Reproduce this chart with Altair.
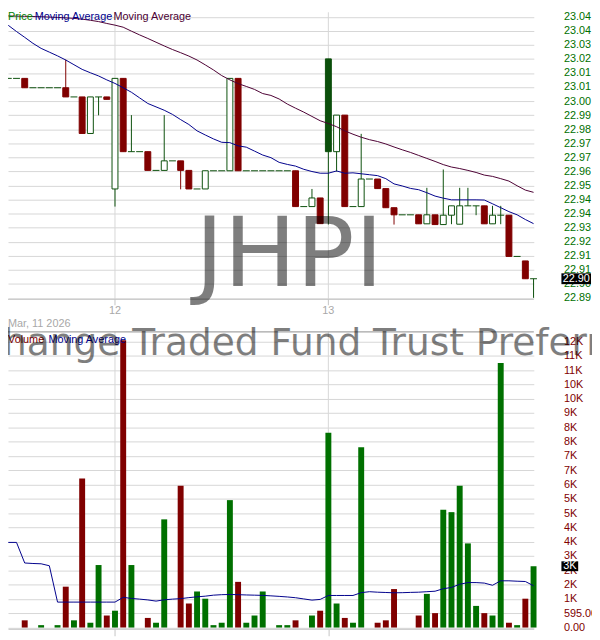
import altair as alt
import pandas as pd
import numpy as np

# ---------------- data ----------------
open_ = [23.0096, 23.0096, 23.0096, 23.0046, 23.0046, 23.0046, 23.0046, 23.0046, 22.9997, 22.9997,
         22.9802, 22.9997, 22.9997, 22.9506, 23.0096, 22.9705, 22.9705, 22.9705, 22.9605, 22.9605,
         22.9656, 22.9656, 22.9605, 22.9506, 22.9506, 22.9603, 22.9603, 22.9603, 23.0096, 22.9603,
         22.9603, 22.9603, 22.9603, 22.9603, 22.9603, 22.9603, 22.9412, 22.9412, 22.9458, 23.0200,
         22.9705, 22.9900, 22.9412, 22.9412, 22.9559, 22.9559, 22.9508, 22.9406, 22.9368, 22.9368,
         22.9368, 22.9320, 22.9368, 22.9316, 22.9366, 22.9318, 22.9416, 22.9416, 22.9416, 22.9320,
         22.9366, 22.9366, 22.9146, 22.9122, 22.9027]
high = [23.0096, 23.0096, 23.0096, 23.0046, 23.0046, 23.0046, 23.0046, 23.0196, 22.9997, 22.9997,
        22.9997, 22.9997, 22.9997, 23.0096, 23.0096, 22.9900, 22.9705, 22.9705, 22.9605, 22.9900,
        22.9656, 22.9656, 22.9605, 22.9506, 22.9603, 22.9603, 22.9603, 23.0096, 23.0096, 22.9603,
        22.9603, 22.9603, 22.9603, 22.9603, 22.9603, 22.9603, 22.9412, 22.9506, 22.9458, 23.0200,
        22.9900, 22.9900, 22.9412, 22.9800, 22.9559, 22.9559, 22.9508, 22.9406, 22.9368, 22.9368,
        22.9368, 22.9512, 22.9368, 22.9610, 22.9416, 22.9512, 22.9512, 22.9416, 22.9416, 22.9416,
        22.9416, 22.9366, 22.9146, 22.9122, 22.9027]
low = [23.0096, 23.0096, 23.0046, 23.0046, 23.0046, 23.0046, 23.0046, 22.9997, 22.9997, 22.9802,
       22.9802, 22.9899, 22.9984, 22.9412, 22.9705, 22.9705, 22.9705, 22.9605, 22.9605, 22.9605,
       22.9656, 22.9504, 22.9506, 22.9506, 22.9506, 22.9603, 22.9603, 22.9603, 22.9603, 22.9603,
       22.9603, 22.9603, 22.9603, 22.9603, 22.9603, 22.9412, 22.9412, 22.9412, 22.9321, 22.9316,
       22.9599, 22.9412, 22.9412, 22.9412, 22.9559, 22.9508, 22.9406, 22.9316, 22.9368, 22.9368,
       22.9320, 22.9320, 22.9316, 22.9316, 22.9318, 22.9318, 22.9416, 22.9366, 22.9320, 22.9320,
       22.9318, 22.9146, 22.9146, 22.9027, 22.8925]
close = [23.0096, 23.0096, 23.0046, 23.0046, 23.0046, 23.0046, 23.0046, 22.9997, 22.9997, 22.9802,
         22.9997, 22.9997, 22.9984, 23.0096, 22.9705, 22.9705, 22.9705, 22.9605, 22.9605, 22.9656,
         22.9656, 22.9605, 22.9506, 22.9506, 22.9603, 22.9603, 22.9603, 23.0096, 22.9603, 22.9603,
         22.9603, 22.9603, 22.9603, 22.9603, 22.9603, 22.9412, 22.9412, 22.9458, 22.9321, 22.9705,
         22.9900, 22.9412, 22.9412, 22.9559, 22.9559, 22.9508, 22.9406, 22.9368, 22.9368, 22.9368,
         22.9320, 22.9368, 22.9316, 22.9366, 22.9416, 22.9416, 22.9416, 22.9416, 22.9320, 22.9366,
         22.9366, 22.9146, 22.9146, 22.9027, 22.9027]
volume = [0, 0, 300, 0, 100, 0, 100, 1700, 300, 6200,
          200, 2600, 500, 700, 11950, 2600, 0, 400, 200, 4500,
          0, 5900, 1000, 1500, 1200, 100, 200, 5300, 1900, 200,
          500, 1500, 0, 100, 100, 300, 0, 500, 700, 8100,
          1000, 400, 200, 7500, 0, 200, 300, 1600, 0, 0,
          500, 1400, 600, 4900, 4800, 5900, 3500, 900, 600, 500,
          11000, 200, 100, 1200, 2550]
ma_fast = [23.0379, 23.0346, 23.0315, 23.0283, 23.0256, 23.0236, 23.0216, 23.0194, 23.0169, 23.0144,
           23.0126, 23.0109, 23.0088, 23.0069, 23.0046, 23.0022, 22.9992, 22.9962, 22.9944, 22.9926,
           22.9904, 22.9876, 22.9850, 22.9816, 22.9794, 22.9773, 22.9755, 22.9753, 22.9736, 22.9729,
           22.9708, 22.9687, 22.9673, 22.9648, 22.9637, 22.9628, 22.9611, 22.9599, 22.9590, 22.9590,
           22.9602, 22.9590, 22.9592, 22.9587, 22.9582, 22.9577, 22.9561, 22.9533, 22.9522, 22.9509,
           22.9502, 22.9486, 22.9468, 22.9457, 22.9448, 22.9448, 22.9448, 22.9448, 22.9447, 22.9427,
           22.9406, 22.9385, 22.9368, 22.9343, 22.9321]
ma_slow = [23.0429, 23.0428, 23.0427, 23.0426, 23.0425, 23.0423, 23.0421, 23.0419, 23.0416, 23.0412,
           23.0406, 23.0399, 23.0389, 23.0380, 23.0369, 23.0348, 23.0328, 23.0309, 23.0289, 23.0269,
           23.0250, 23.0233, 23.0215, 23.0194, 23.0168, 23.0141, 23.0111, 23.0088, 23.0068, 23.0053,
           23.0037, 23.0015, 23.0005, 22.9986, 22.9959, 22.9937, 22.9916, 22.9893, 22.9870, 22.9855,
           22.9838, 22.9816, 22.9798, 22.9782, 22.9769, 22.9759, 22.9746, 22.9730, 22.9715, 22.9701,
           22.9685, 22.9669, 22.9653, 22.9636, 22.9623, 22.9615, 22.9605, 22.9594, 22.9580, 22.9573,
           22.9561, 22.9548, 22.9523, 22.9500, 22.9488]
vol_ma = [3541, 3541, 2685, 2664, 2652, 2570, 1058, 1058, 1058, 1058,
          1058, 1058, 1058, 1058, 1256, 1211, 1182, 1149, 1100, 1153,
          1182, 1202, 1244, 1277, 1305, 1347, 1367, 1375, 1367, 1355,
          1347, 1338, 1318, 1297, 1272, 1240, 1190, 1141, 1170, 1334,
          1334, 1334, 1334, 1450, 1491, 1470, 1458, 1445, 1450, 1462,
          1470, 1491, 1511, 1614, 1668, 1800, 1870, 1870, 1849, 1758,
          1944, 1944, 1927, 1915, 1738]

price_ticks = [22.8925, 22.9, 22.9075, 22.915, 22.9225, 22.93, 22.9375, 22.945, 22.9525, 22.96,
               22.9675, 22.975, 22.9825, 22.99, 22.9975, 23.005, 23.0125, 23.02, 23.0275, 23.035, 23.0425]
price_tick_labels = ["22.89", "22.90", "22.91", "22.91", "22.92", "22.93", "22.94", "22.94", "22.95", "22.96",
                     "22.97", "22.97", "22.98", "22.99", "23.00", "23.01", "23.01", "23.02", "23.03", "23.04", "23.04"]
vol_ticks = [0, 595, 1190, 1785, 2380, 2975, 3570, 4165, 4760, 5355, 5950,
             6545, 7140, 7735, 8330, 8925, 9520, 10115, 10710, 11305, 11900]
vol_tick_labels = ["0.00", "595.00", "1K", "2K", "2K", "3K", "4K", "4K", "5K", "5K", "6K",
                   "7K", "7K", "8K", "8K", "9K", "10K", "10K", "11K", "11K", "12K"]
day_ticks = [13, 39]
day_labels = ["12", "13"]
date_label = "Mar, 11 2026"
symbol = "JHPI"
fund_name = "John Hancock Exchange Traded Fund Trust Preferred Income ETF"

# ---------------- styling ----------------
GREEN_C = "#0b4f0b"
RED_C = "#800000"
GREEN_V = "#007000"
GRID = "#d6d6d6"
AXC = "#c4c4c4"
FONT = "Liberation Sans"
W, H = 533, 625

df = pd.DataFrame(dict(i=list(range(len(close))), o=open_, h=high, l=low, c=close,
                       v=volume, ma1=ma_fast, ma2=ma_slow, vma=vol_ma))
prev = df["c"].shift(1).fillna(df["c"])
up = df["c"] >= prev
df["col"] = np.where(up, GREEN_C, RED_C)
df["vcol"] = np.where(up, GREEN_V, RED_C)
df["fillc"] = np.where(df["c"] < df["o"], df["col"], "#ffffff")
df["xl"] = df["i"] - 0.42
df["xr"] = df["i"] + 0.42
body = df[df["o"] != df["c"]]
doji = df[df["o"] == df["c"]]
vol = df[df["v"] > 0]
last = df.tail(1).copy()
last["plabel"] = last["c"].map(lambda v: f"{v:.2f}")
last["vlabel"] = last["v"].map(lambda v: f"{round(v / 1000)}K")
days = pd.DataFrame({"d": day_ticks, "lab": day_labels})

xscale = alt.Scale(domain=[-0.036, 64.03], nice=False, zero=False, padding=0)
xaxis = alt.Axis(values=day_ticks, labels=False, ticks=True, tickSize=7, tickColor=AXC,
                 domain=True, domainColor=AXC, grid=False, title=None)


def X(f="i"):
    return alt.X(f"{f}:Q", scale=xscale, axis=xaxis)


pscale = alt.Scale(domain=[22.71592, 23.04487], nice=False, zero=False, padding=0)
plabel_expr = "[" + ",".join(f"'{s}'" for s in price_tick_labels) + "][round((datum.value - 22.8925) / 0.0075)]"
paxis = alt.Axis(orient="right", values=price_ticks, labelExpr=plabel_expr, labelColor="#007000",
                 labelFont=FONT, labelFontSize=11, ticks=False, domain=False, grid=True,
                 gridColor=GRID, labelPadding=30, labelOverlap=False, title=None)


def PY(f):
    return alt.Y(f"{f}:Q", scale=pscale, axis=paxis)


vscale = alt.Scale(domain=[-53.3, 25593], nice=False, zero=False, padding=0)
vlabel_expr = "[" + ",".join(f"'{s}'" for s in vol_tick_labels) + "][round(datum.value / 595)]"
vaxis = alt.Axis(orient="right", values=vol_ticks, labelExpr=vlabel_expr, labelColor="#800000",
                 labelFont=FONT, labelFontSize=11, ticks=False, domain=False, grid=True,
                 gridColor=GRID, labelPadding=30, labelOverlap=False, title=None)


def VY(f):
    return alt.Y(f"{f}:Q", scale=vscale, axis=vaxis)


def txt(s):
    return alt.Chart(pd.DataFrame({"t": [s]}))


# ---------------- price panel ----------------
pgrid = alt.Chart(days).mark_rule(color=GRID, strokeWidth=1).encode(
    x=X("d"), y=alt.value(0), y2=alt.value(291))
paxline = txt("a").mark_rule(color=AXC, strokeWidth=1).encode(
    x=alt.value(0), x2=alt.value(W), y=alt.value(291))
pticks = alt.Chart(days).mark_rule(color=AXC, strokeWidth=1).encode(
    x=X("d"), y=alt.value(291), y2=alt.value(297))
plabels = alt.Chart(days).mark_text(color="#a8a8a8", font=FONT, fontSize=11, baseline="middle").encode(
    x=X("d"), y=alt.value(303), text="lab:N")
pdate = txt(date_label).mark_text(color="#a8a8a8", font=FONT, fontSize=11, align="left",
                                   baseline="middle").encode(x=alt.value(0), y=alt.value(316), text="t:N")

wick = alt.Chart(df).mark_rule(strokeWidth=1).encode(
    x=X(), y=PY("l"), y2="h:Q", color=alt.Color("col:N", scale=None))
bodies = alt.Chart(body).mark_bar(size=6, strokeWidth=1).encode(
    x=X(), y=PY("o"), y2="c:Q", fill=alt.Fill("fillc:N", scale=None),
    stroke=alt.Stroke("col:N", scale=None))
dojis = alt.Chart(doji).mark_rule(strokeWidth=1).encode(
    x=X("xl"), x2="xr:Q", y=PY("c"), color=alt.Color("col:N", scale=None))
ma1 = alt.Chart(df).mark_line(color="#00008b", strokeWidth=1).encode(x=X(), y=PY("ma1"))
ma2 = alt.Chart(df).mark_line(color="#4b0033", strokeWidth=1).encode(x=X(), y=PY("ma2"))

mark_sym = txt(symbol).mark_text(font="DejaVu Sans", fontSize=98, color="#000000", opacity=0.5,
                                 align="center", baseline="alphabetic").encode(
    x=alt.value(285), y=alt.value(277), text="t:N")

leg1 = txt("Price").mark_text(font=FONT, fontSize=11, color="#008000", align="left",
                              baseline="middle").encode(x=alt.value(0), y=alt.value(5), text="t:N")
leg2 = txt("Moving Average").mark_text(font=FONT, fontSize=11, color="#00008b", align="left",
                                       baseline="middle").encode(x=alt.value(27), y=alt.value(5), text="t:N")
leg3 = txt("Moving Average").mark_text(font=FONT, fontSize=11, color="#4b0033", align="left",
                                       baseline="middle").encode(x=alt.value(107), y=alt.value(5), text="t:N")

phl_box = alt.Chart(last).mark_rect(color="#000000", yOffset=-5.5, y2Offset=5.5).encode(
    x=alt.value(561), x2=alt.value(591), y=PY("c"), y2="c:Q")
phl_txt = alt.Chart(last).mark_text(color="#ffffff", font=FONT, fontSize=11, align="center",
                                    baseline="middle").encode(x=alt.value(576), y=PY("c"), text="plabel:N")

price = alt.layer(pgrid, paxline, pticks, plabels, pdate, wick, bodies, dojis, ma1, ma2,
                  mark_sym, leg1, leg2, leg3, phl_box, phl_txt)

# ---------------- volume panel ----------------
vgrid = alt.Chart(days).mark_rule(color=GRID, strokeWidth=1).encode(
    x=X("d"), y=alt.value(324), y2=alt.value(H))
vtop = txt("a").mark_rule(color="#8c8c8c", strokeWidth=1).encode(
    x=alt.value(0), x2=alt.value(W), y=alt.value(324))
vbars = alt.Chart(vol).mark_bar(size=6).encode(
    x=X(), y=VY("v"), y2=alt.datum(0), color=alt.Color("vcol:N", scale=None))
vma = alt.Chart(df).mark_line(color="#00008b", strokeWidth=1).encode(x=X(), y=VY("vma"))
vleg1 = txt("Volume").mark_text(font=FONT, fontSize=11, color="#800000", align="left",
                                baseline="middle").encode(x=alt.value(0), y=alt.value(332), text="t:N")
vleg2 = txt("Moving Average").mark_text(font=FONT, fontSize=11, color="#00008b", align="left",
                                        baseline="middle").encode(x=alt.value(41), y=alt.value(332), text="t:N")
name_txt = txt(fund_name).mark_text(font="DejaVu Sans", fontSize=38, color="#000000", opacity=0.5,
                                    align="center", baseline="alphabetic").encode(
    x=alt.value(270), y=alt.value(347), text="t:N")
vhl_box = alt.Chart(last).mark_rect(color="#000000", yOffset=-5, y2Offset=5).encode(
    x=alt.value(561), x2=alt.value(578), y=VY("v"), y2="v:Q")
vhl_txt = alt.Chart(last).mark_text(color="#ffffff", font=FONT, fontSize=11, align="center",
                                    baseline="middle").encode(x=alt.value(569.5), y=VY("v"), text="vlabel:N")

volume_panel = alt.layer(vgrid, vtop, vbars, vma, vleg1, vleg2, name_txt, vhl_box, vhl_txt)

chart = alt.layer(price, volume_panel).resolve_scale(y="independent").properties(
    width=W, height=H,
    autosize=alt.AutoSizeParams(type="none"),
    padding={"left": 0, "top": 0, "right": 59, "bottom": 7},
).configure_view(strokeWidth=0)

chart.save("out.html", embed_options={"renderer": "svg", "actions": False})
